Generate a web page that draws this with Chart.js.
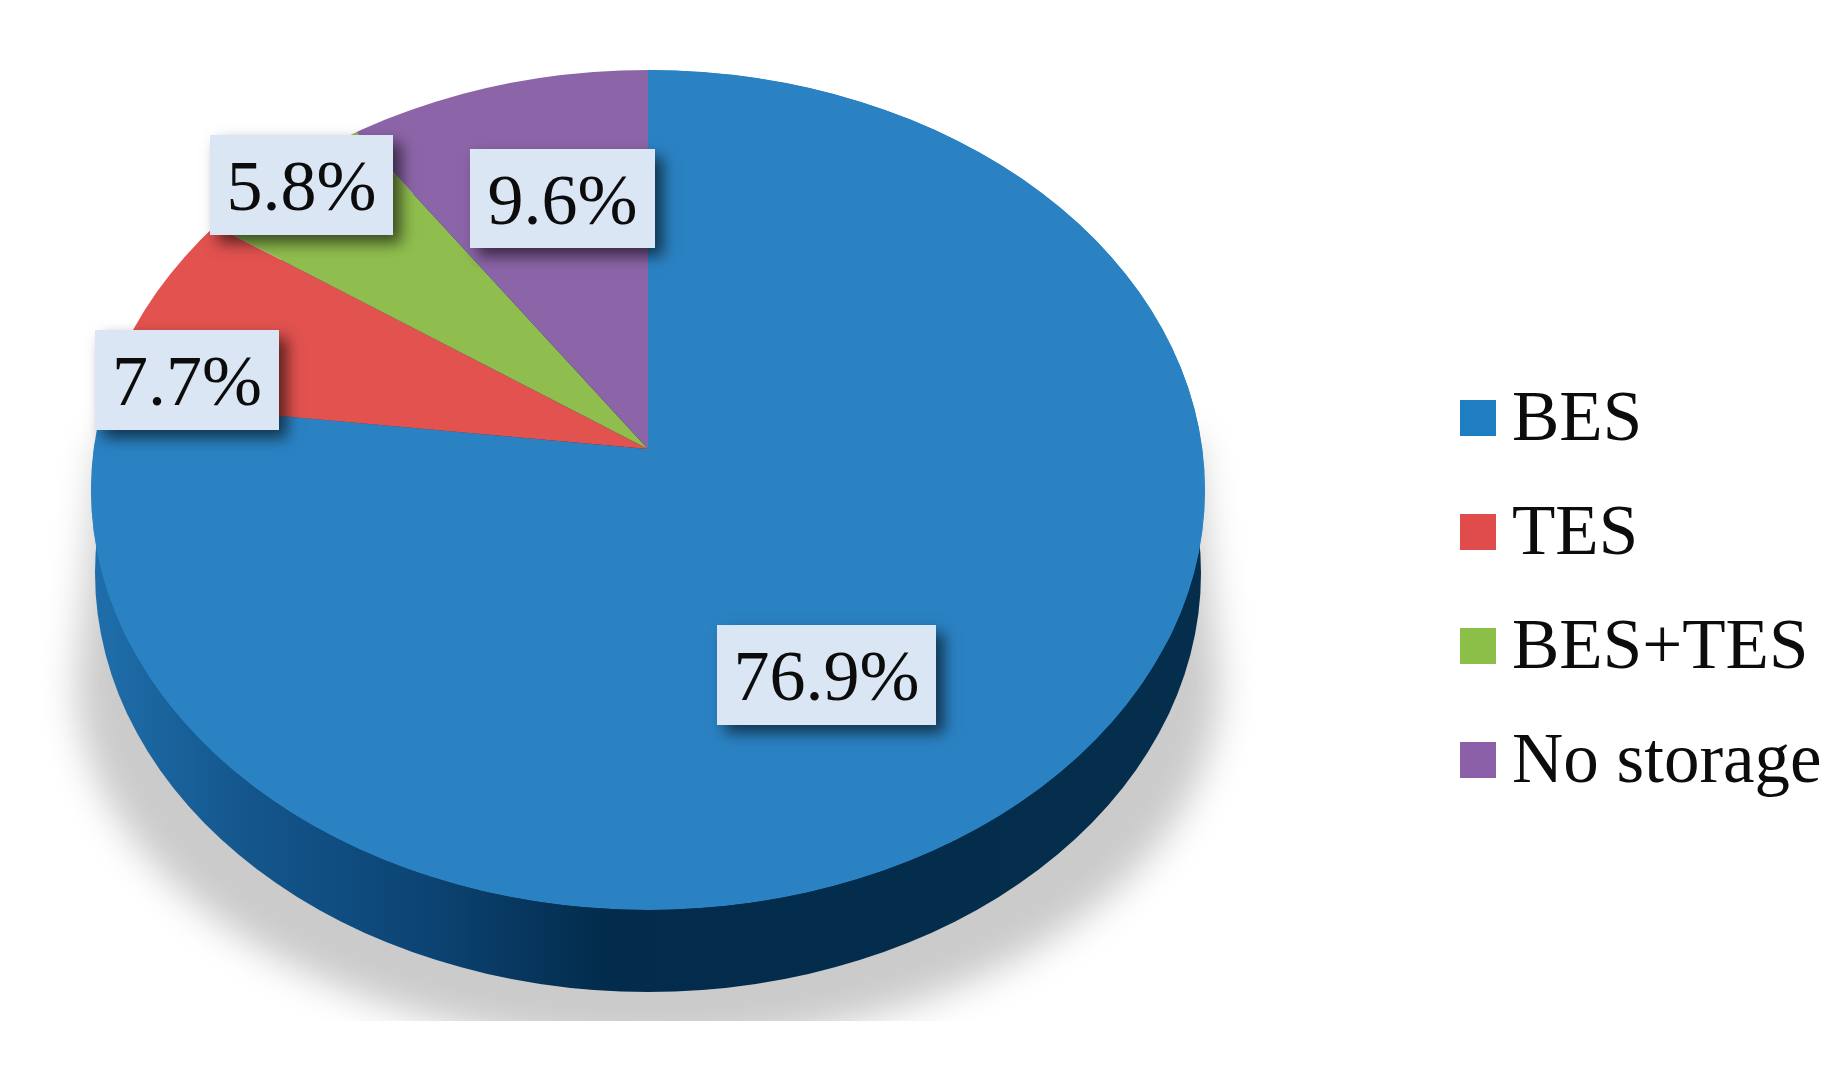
<!DOCTYPE html>
<html><head><meta charset="utf-8">
<script src="https://cdn.jsdelivr.net/npm/chart.js@4"></script>
<style>html,body{margin:0;padding:0;background:#fff}canvas{display:block}</style>
</head><body><canvas id="c" width="1840" height="1066"></canvas>
<script>
const categories = ["BES", "TES", "BES+TES", "No storage"];
const shares = [76.9, 7.7, 5.8, 9.6];
const sliceColors = ["#2A82C3", "#E2524F", "#8FBD4E", "#8C64A8"];
const swatchColors = ["#1F7DC1", "#E04B4B", "#8BBF48", "#8B60A8"];

const FONT = '"Liberation Serif","Times New Roman",serif';
const labelBoxes = [[717,625,219,100],[95,330,184,100],[210,135,183,100],[470,149,185,99]];
const face = {cx:648, rx:557, midY:490, ry:420, apexY:449, wedgeRx:580, wedgeRy:434};
const legendLayout = {x:1460, size:36, textX:1512, rows:[418,532,646,760], font:71};

const pie3d = {
  id:'pie3d',
  beforeDatasetsDraw(chart){
    const ctx = chart.ctx, arcs = chart.getDatasetMeta(0).data;
    const R = arcs[0].outerRadius, ex = arcs[0].x, ey = arcs[0].y;
    // ground shadow
    ctx.save();
    ctx.beginPath(); ctx.rect(0,0,1840,1021); ctx.clip();
    ctx.filter = 'blur(18px)';
    ctx.fillStyle = '#cbcbcb';
    ctx.beginPath();
    ctx.moveTo(face.cx-548,440);
    ctx.lineTo(face.cx+548,440);
    ctx.lineTo(face.cx+572,680);
    ctx.ellipse(face.cx,680,572,365,0,0,Math.PI);
    ctx.closePath(); ctx.fill();
    ctx.restore();
    // side wall
    const g = ctx.createLinearGradient(90,0,1205,0);
    g.addColorStop(0,'#1F6FAC'); g.addColorStop(0.14,'#14568C');
    g.addColorStop(0.3,'#0C4474'); g.addColorStop(0.46,'#032C4C'); g.addColorStop(1,'#052D4C');
    ctx.fillStyle = g;
    ctx.beginPath(); ctx.ellipse(face.cx,573,553,419,0,0,Math.PI*2); ctx.fill();
    // top face: library arcs, clipped to the rim ellipse
    const drawArc = (arc,cy,rx,ry)=>{
      ctx.save();
      ctx.translate(face.cx,cy);
      ctx.scale(rx/R,ry/R);
      ctx.translate(-ex,-ey);
      arc.draw(ctx);
      ctx.restore();
    };
    ctx.save();
    ctx.beginPath(); ctx.ellipse(face.cx,face.midY,face.rx,face.ry,0,0,Math.PI*2); ctx.clip();
    drawArc(arcs[0],face.midY,face.rx,face.ry);
    arcs.forEach(a=>drawArc(a,face.apexY,face.wedgeRx,face.wedgeRy));
    ctx.restore();
    return false;
  },
  afterDraw(chart){
    const ctx = chart.ctx;
    shares.forEach((v,i)=>{
      const [x,y,w,h] = labelBoxes[i];
      ctx.save();
      ctx.shadowColor='rgba(0,0,0,0.6)'; ctx.shadowBlur=14; ctx.shadowOffsetX=8; ctx.shadowOffsetY=8;
      ctx.fillStyle='#DAE6F3'; ctx.fillRect(x,y,w,h);
      ctx.restore();
      ctx.fillStyle='#0c0c0c'; ctx.font='72px '+FONT; ctx.textAlign='center'; ctx.textBaseline='alphabetic';
      ctx.fillText(v.toFixed(1)+'%',x+w/2,y+h/2+25);
    });
    categories.forEach((c,i)=>{
      const cy = legendLayout.rows[i], s = legendLayout.size;
      ctx.fillStyle=swatchColors[i]; ctx.fillRect(legendLayout.x,cy-s/2,s,s);
      ctx.fillStyle='#0c0c0c'; ctx.font=legendLayout.font+'px '+FONT; ctx.textAlign='left'; ctx.textBaseline='alphabetic';
      ctx.fillText(c,legendLayout.textX,cy+22);
    });
  }
};

new Chart(document.getElementById('c'),{
  type:'pie',
  data:{labels:categories,datasets:[{data:shares,backgroundColor:sliceColors,borderWidth:0}]},
  options:{responsive:false,animation:false,
    plugins:{legend:{display:false},tooltip:{enabled:false},title:{display:false}}},
  plugins:[pie3d]
});
</script></body></html>
